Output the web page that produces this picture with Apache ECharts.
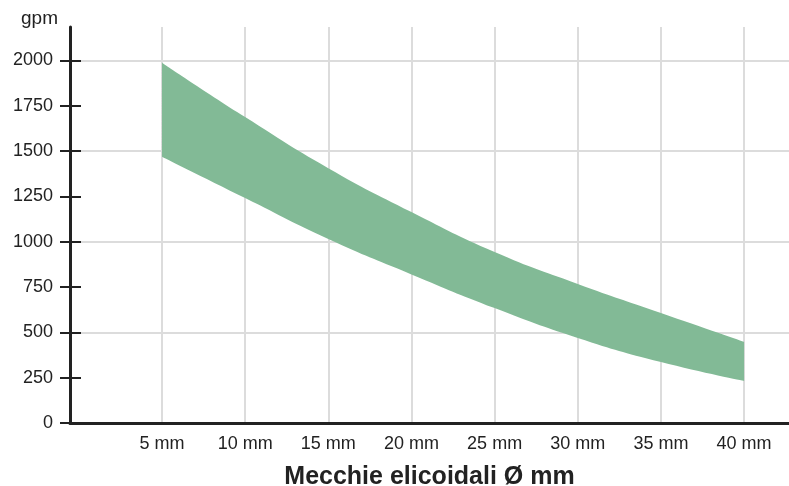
<!DOCTYPE html>
<html><head><meta charset="utf-8">
<script src="https://cdn.jsdelivr.net/npm/echarts@6/dist/echarts.min.js"></script>
<style>html,body{margin:0;padding:0;background:#fff}#c{width:789px;height:486px}</style>
</head><body><div id="c"></div>
<script>
const sizes = [5, 10, 15, 20, 25, 30, 35, 40];
const sizeLabels = ['5 mm','10 mm','15 mm','20 mm','25 mm','30 mm','35 mm','40 mm'];
const upperGpm = [1988, 1688, 1406, 1164, 943, 767, 607, 448];
const lowerGpm = [1469, 1241, 1015, 820, 634, 469, 336, 232];
const yTicks = [0, 250, 500, 750, 1000, 1250, 1500, 1750, 2000];
const yGrid = [500, 1000, 1500, 2000];

const FONT = 'Liberation Sans, Arial, Helvetica, sans-serif';
const chart = echarts.init(document.getElementById('c'));
// rows: [gpm, size] so that the stacked dimension is the gpm value
const lowerData = sizes.map((s, i) => [lowerGpm[i], s]);
const diffData = sizes.map((s, i) => [upperGpm[i] - lowerGpm[i], s]);

chart.setOption({
  animation: false,
  title: { text: 'gpm', left: 16, top: 4, textStyle: { fontFamily: FONT, fontSize: 19, fontWeight: 'normal', color: '#222' } },
  grid: { left: 70, right: 0, top: 27, bottom: 63, containLabel: false, outerBoundsMode: 'none' },
  xAxis: {
    type: 'value', min: -0.53, max: 42.7,
    name: 'Mecchie elicoidali Ø mm', nameLocation: 'middle', nameGap: 42,
    nameTextStyle: { fontFamily: FONT, fontSize: 25, fontWeight: 'bold', color: '#222' },
    axisLine: { onZero: false, lineStyle: { color: '#222', width: 3 } },
    axisTick: { show: false, customValues: sizes },
    splitLine: { show: true, lineStyle: { color: '#dcdcdc', width: 2 } },
    axisLabel: { customValues: sizes, fontFamily: FONT, fontSize: 18, color: '#222', margin: 12,
      formatter: v => sizeLabels[sizes.indexOf(v)] || '' }
  },
  yAxis: [{
    type: 'value', min: 0, max: 2185,
    axisLine: { show: true, onZero: false, lineStyle: { color: '#222', width: 3 } },
    axisTick: { show: true, customValues: yTicks, length: 10, lineStyle: { color: '#222', width: 2 } },
    axisLabel: { customValues: yTicks, fontFamily: FONT, fontSize: 18, color: '#222', margin: 17,
      formatter: v => String(v) },
    splitLine: { show: false }
  }, {
    type: 'value', min: 0, max: 2185, position: 'left', offset: -11,
    axisLine: { show: false, onZero: false },
    axisTick: { show: true, customValues: yTicks, length: 21, lineStyle: { color: '#222', width: 2 } },
    axisLabel: { show: false },
    splitLine: { show: false }
  }],
  series: [{
    type: 'line', data: lowerData, encode: { x: 1, y: 0 }, stack: 'band', smooth: 0.5, symbol: 'none',
    lineStyle: { opacity: 0 }, silent: true,
    markLine: {
      silent: true, symbol: 'none', label: { show: false }, z: 0,
      lineStyle: { color: '#dcdcdc', width: 2, type: 'solid' },
      data: yGrid.map(v => ({ yAxis: v }))
    }
  }, {
    type: 'line', data: diffData, encode: { x: 1, y: 0 }, stack: 'band', smooth: 0.5, symbol: 'none', z: 3,
    lineStyle: { opacity: 0 }, areaStyle: { color: '#82ba96', opacity: 1 }, silent: true
  }]
});
</script></body></html>
